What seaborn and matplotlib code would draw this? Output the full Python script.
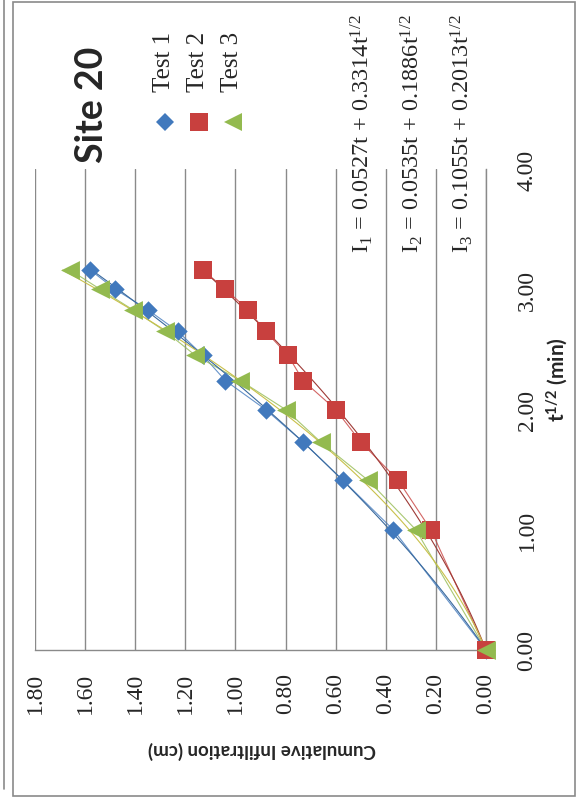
import numpy as np
import pandas as pd
import seaborn as sns
import matplotlib
matplotlib.use("Agg")
import matplotlib.pyplot as plt
from matplotlib.lines import Line2D
from matplotlib.patches import Rectangle

# Square root of elapsed time (min^1/2) for each reading
t_sqrt = [0.00, 1.00, 1.41, 1.73, 2.00, 2.24, 2.45, 2.65, 2.83, 3.00, 3.16]

# Cumulative infiltration (cm) for each test
test1 = [0.00, 0.37, 0.57, 0.73, 0.88, 1.04, 1.13, 1.23, 1.35, 1.48, 1.58]
test2 = [0.00, 0.22, 0.35, 0.50, 0.60, 0.73, 0.79, 0.88, 0.95, 1.04, 1.13]
test3 = [0.00, 0.28, 0.47, 0.66, 0.80, 0.98, 1.16, 1.28, 1.41, 1.54, 1.66]

series_names = ["Test 1", "Test 2", "Test 3"]
# Fitted model I = a*t + b*t^(1/2) for each test
fit_a = [0.0527, 0.0535, 0.1055]
fit_b = [0.3314, 0.1886, 0.2013]
equations = [
    r"I$_1$ = 0.0527t + 0.3314t$^{1/2}$",
    r"I$_2$ = 0.0535t + 0.1886t$^{1/2}$",
    r"I$_3$ = 0.1055t + 0.2013t$^{1/2}$",
]

inf_ticks = [0.00, 0.20, 0.40, 0.60, 0.80, 1.00, 1.20, 1.40, 1.60, 1.80]
t_ticks = [0.00, 1.00, 2.00, 3.00, 4.00]

colors = ["#4179BD", "#C8403E", "#93BA4F"]
line_colors = ["#3A6A9E", "#9E3A36", "#C9C04A"]
markers = ["D", "s", "<"]
marker_sizes = [88, 175, 185]

df = pd.DataFrame({
    "t": t_sqrt * 3,
    "I": test1 + test2 + test3,
    "test": sum([[n] * len(t_sqrt) for n in series_names], []),
})

sns.set_theme(style="white")
plt.rcParams["font.family"] = ["Liberation Serif", "DejaVu Serif"]
plt.rcParams["mathtext.fontset"] = "custom"
plt.rcParams["mathtext.rm"] = "Liberation Serif"
plt.rcParams["mathtext.it"] = "Liberation Serif"
plt.rcParams["mathtext.sf"] = "Lato:bold"
plt.rcParams["mathtext.default"] = "regular"

W, H = 579, 803
fig = plt.figure(figsize=(W / 100, H / 100), dpi=100)
fig.patch.set_facecolor("white")

def fx(px):
    return px / W

def fy(py):
    return 1 - py / H

# Plot area: infiltration runs right-to-left, time runs bottom-to-top
ax = fig.add_axes([fx(35), fy(651), fx(486) - fx(35), fy(170) - fy(651)])
ax.set_facecolor("white")

# Thin lines joining the readings of each test
for name, lc in zip(series_names, colors):
    sub = df[df["test"] == name]
    sns.lineplot(data=sub, x="I", y="t", sort=False, estimator=None,
                 color=lc, lw=0.8, alpha=0.8, ax=ax, legend=False)

# Fitted curves
s_grid = np.linspace(0, t_sqrt[-1], 120)
for a, b, lc in zip(fit_a, fit_b, line_colors):
    ax.plot(a * s_grid ** 2 + b * s_grid, s_grid, color=lc, lw=0.8, zorder=2)

# Measured readings
for name, c, m, sz in zip(series_names, colors, markers, marker_sizes):
    sub = df[df["test"] == name]
    sns.scatterplot(data=sub, x="I", y="t", color=c, marker=m, s=sz,
                    linewidth=0, ax=ax, legend=False, zorder=3)

ax.set_xlim(1.80, 0.00)
ax.set_ylim(0.00, 4.00)
ax.set_xticks(inf_ticks)
ax.set_xticklabels([f"{v:.2f}" for v in inf_ticks], rotation=90, fontsize=17)
ax.set_yticks(t_ticks)
ax.set_yticklabels([f"{v:.2f}" for v in t_ticks], rotation=90, fontsize=17,
                   va="center")
ax.yaxis.tick_right()
ax.tick_params(axis="x", length=0, pad=16)
ax.tick_params(axis="y", length=0, pad=22)
ax.set_xlabel("")
ax.set_ylabel("")
ax.xaxis.grid(True, color="#8A8A8A", lw=1)
ax.yaxis.grid(False)
for side in ["top", "left"]:
    ax.spines[side].set_visible(False)
for side in ["bottom", "right"]:
    ax.spines[side].set_color("#8A8A8A")
    ax.spines[side].set_linewidth(1)
for coll in ax.collections:
    coll.set_clip_on(False)

# Axis titles
fig.text(fx(262), fy(750), "Cumulative Infiltration (cm)", rotation=180,
         ha="center", va="center", fontsize=13.5, family="Lato", weight="bold")
fig.text(fx(557), fy(380), r"$\mathsf{t^{1/2}\ (min)}$", rotation=90,
         ha="center", va="center", fontsize=15)

# Title
fig.text(fx(92), fy(105), "Site 20", rotation=90, ha="center", va="center",
         fontsize=27, family="Lato", weight="bold")

# Legend
leg_x = [165, 199, 233]
for name, c, m, sz, lx in zip(series_names, colors, markers, marker_sizes, leg_x):
    fig.add_artist(Line2D([fx(lx)], [fy(123)], transform=fig.transFigure,
                          marker=m, markersize=np.sqrt(sz), color=c, lw=0,
                          markeredgewidth=0))
    fig.text(fx(lx - 1), fy(92), name, rotation=90, ha="center", va="bottom",
             fontsize=18)

# Fitted equations
for eq, ex in zip(equations, [362, 412, 462]):
    fig.text(fx(ex), fy(253), eq, rotation=90, ha="center", va="bottom",
             fontsize=17.5,
             bbox=dict(facecolor="white", edgecolor="none", pad=1.5))

# Chart frame
fig.add_artist(Rectangle((fx(13), fy(797)), fx(575) - fx(13), fy(3) - fy(797),
                         transform=fig.transFigure, fill=False,
                         edgecolor="#8A8A8A", lw=1.2))
fig.add_artist(Line2D([fx(4), fx(4)], [fy(0), fy(790)],
                      transform=fig.transFigure, color="#8A8A8A", lw=1.2))

fig.savefig("out.png", dpi=100, facecolor="white")
